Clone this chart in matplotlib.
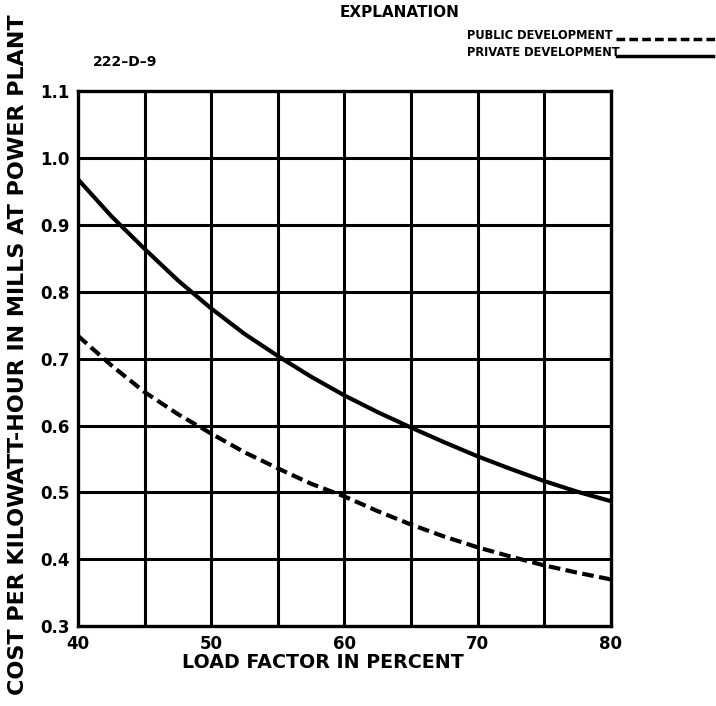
import matplotlib
matplotlib.use("Agg")
import matplotlib.pyplot as plt
from matplotlib.lines import Line2D

load_factor = [40, 42.5, 45, 47.5, 50, 52.5, 55, 57.5, 60, 62.5, 65, 67.5, 70, 72.5, 75, 77.5, 80]
private_cost = [0.968, 0.913, 0.864, 0.817, 0.775, 0.737, 0.704, 0.673, 0.645, 0.620,
                0.597, 0.575, 0.554, 0.535, 0.517, 0.501, 0.487]
public_cost = [0.734, 0.690, 0.650, 0.617, 0.588, 0.560, 0.536, 0.513, 0.494, 0.472,
               0.452, 0.434, 0.418, 0.404, 0.391, 0.380, 0.370]
x_ticks = [40, 50, 60, 70, 80]
y_ticks = [0.3, 0.4, 0.5, 0.6, 0.7, 0.8, 0.9, 1.0, 1.1]
y_tick_labels = ["0.3", "0.4", "0.5", "0.6", "0.7", "0.8", "0.9", "1.0", "1.1"]

plt.rcParams['font.family'] = ['DejaVu Sans']
fig = plt.figure(figsize=(7.16, 7.06), dpi=100)
ax = fig.add_axes([0.109, 0.113, 0.744, 0.758])

ax.set_xlim(40, 80)
ax.set_ylim(0.3, 1.1)
for xv in range(45, 80, 5):
    ax.axvline(xv, color='black', lw=2.2, zorder=1)
for yv in y_ticks[1:-1]:
    ax.axhline(yv, color='black', lw=2.2, zorder=1)
for s in ax.spines.values():
    s.set_linewidth(2.4)

ax.plot(load_factor, private_cost, color='black', lw=3.0, solid_capstyle='butt', zorder=3)
ax.plot(load_factor, public_cost, color='black', lw=3.0, dashes=(2.8, 1.3), zorder=3)

ax.set_xticks(x_ticks)
ax.set_xticklabels([str(v) for v in x_ticks], fontsize=12, fontweight='bold')
ax.set_yticks(y_ticks)
ax.set_yticklabels(y_tick_labels, fontsize=12, fontweight='bold')
ax.tick_params(length=0, pad=6)

fig.text(0.451, 0.061, "LOAD FACTOR IN PERCENT", fontsize=13.7, fontweight='bold',
         ha='center', va='center')
fig.text(0.025, 0.497, "COST PER KILOWATT-HOUR IN MILLS AT POWER PLANT",
         rotation=90, ha='center', va='center', fontsize=16, fontweight='bold')

fig.text(0.175, 0.912, "222–D–9", fontsize=10, fontweight='bold', ha='center', va='center')
fig.text(0.475, 0.982, "EXPLANATION", fontsize=11, fontweight='bold', ha='left', va='center')
fig.text(0.652, 0.950, "PUBLIC DEVELOPMENT", fontsize=8.3, fontweight='bold', ha='left',
         va='center')
fig.text(0.652, 0.926, "PRIVATE DEVELOPMENT", fontsize=8.3, fontweight='bold', ha='left',
         va='center')
fig.add_artist(Line2D([0.860, 0.998], [0.945, 0.945], color='black', lw=2.5,
                      dashes=(2.5, 1.2), transform=fig.transFigure))
fig.add_artist(Line2D([0.862, 0.996], [0.921, 0.921], color='black', lw=2.5,
                      transform=fig.transFigure))

fig.savefig("out.png", dpi=100)
